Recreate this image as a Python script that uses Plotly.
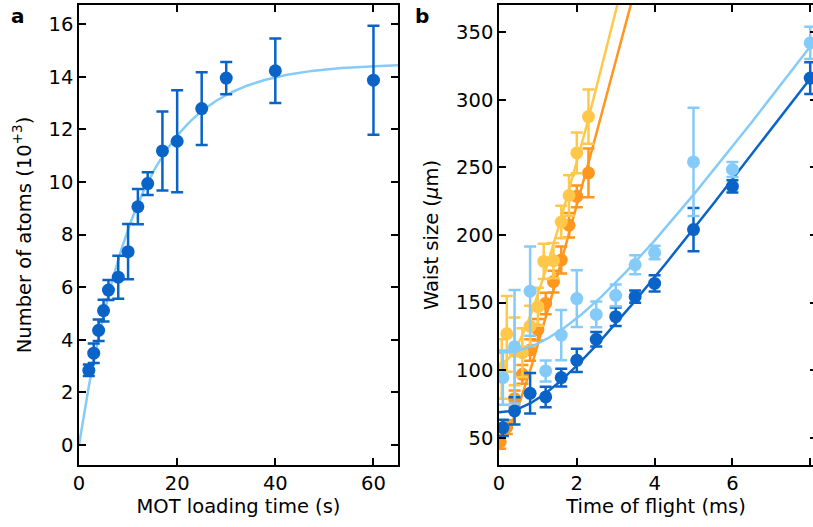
import numpy as np
import plotly.graph_objects as go

# ---------------- Panel a: MOT loading ----------------
load_t = [2, 3, 4, 5, 6, 8, 10, 12, 14, 17, 20, 25, 30, 40, 60]
load_n = [2.84, 3.49, 4.36, 5.11, 5.89, 6.38, 7.35, 9.06, 9.94, 11.18, 11.55, 12.79, 13.95, 14.23, 13.87]
load_err = [0.22, 0.37, 0.41, 0.41, 0.38, 0.82, 1.05, 0.67, 0.43, 1.5, 1.94, 1.38, 0.61, 1.23, 2.07]
load_fit_nmax = 14.5
load_fit_tau = 12.0

# ---------------- Panel b: time of flight ----------------
db_t = [0.1, 0.4, 0.8, 1.2, 1.6, 2.0, 2.5, 3.0, 3.5, 4.0, 5.0, 6.0, 8.0]
db_w = [57.5, 70, 83, 80.3, 94.6, 107.4, 122.9, 139.6, 154.4, 164.2, 204, 236, 316]
db_err = [6, 10, 15, 7.6, 6.5, 8.6, 5.4, 6.8, 4.5, 6, 16, 4.5, 11.7]
db_fit = (69.0, 38.5)

lb_t = [0.1, 0.4, 0.8, 1.2, 1.6, 2.0, 2.5, 3.0, 3.5, 4.0, 5.0, 6.0, 8.0]
lb_w = [94.6, 117.4, 158.5, 99.5, 126, 153, 141.3, 155.4, 178, 187, 254, 248.4, 342]
lb_err = [20, 42, 33, 7.7, 18.5, 21, 9.5, 8, 7, 5, 40, 5.5, 12]
lb_fit = (113.0, 40.0)

or_t = [0.03, 0.2, 0.4, 0.6, 0.8, 1.0, 1.2, 1.4, 1.6, 1.8, 2.0, 2.3]
or_w = [47, 58, 79, 97, 115, 130, 149.4, 165.5, 181.5, 207.2, 228.6, 245.9]
or_err = [5, 5, 6, 7, 8, 8, 8, 8, 10, 9, 8, 18]
or_fit = (50.0, 108.0)

ye_t = [0.07, 0.2, 0.4, 0.6, 0.8, 1.0, 1.15, 1.4, 1.6, 1.8, 2.0, 2.3]
ye_w = [101, 127, 114, 113, 132.7, 147, 180.5, 181, 209.6, 229.2, 260.7, 287.5]
ye_err = [22, 28, 25, 18, 15, 14, 13, 13, 12, 15, 15, 20]
ye_fit = (105.0, 115.6)

DARK = "#0a64c8"
LIGHT = "#85cbfa"
ORANGE = "#ff961e"
YELLOW = "#ffc84b"

FONT = "DejaVu Sans"
FS = 19.5

W, H = 813, 527

fig = go.Figure()

# Panel a
tt = np.linspace(0, 65, 300)
fig.add_trace(go.Scatter(x=tt, y=load_fit_nmax * (1 - np.exp(-tt / load_fit_tau)),
                         mode="lines", line=dict(color=LIGHT, width=2.5),
                         xaxis="x", yaxis="y", showlegend=False, hoverinfo="skip"))
fig.add_trace(go.Scatter(x=load_t, y=load_n, mode="markers",
                         marker=dict(color=DARK, size=13),
                         error_y=dict(type="data", array=load_err, color=DARK, thickness=2.5, width=6),
                         xaxis="x", yaxis="y", showlegend=False))

# Panel b
tb = np.linspace(0, 8.2, 300)
for t, w, e, (w0, v), col in [
    (or_t, or_w, or_err, or_fit, ORANGE),
    (ye_t, ye_w, ye_err, ye_fit, YELLOW),
    (db_t, db_w, db_err, db_fit, DARK),
    (lb_t, lb_w, lb_err, lb_fit, LIGHT),
]:
    fig.add_trace(go.Scatter(x=t, y=w, mode="markers",
                             marker=dict(color=col, size=13),
                             error_y=dict(type="data", array=e, color=col, thickness=2.5, width=6),
                             xaxis="x2", yaxis="y2", showlegend=False))
    fig.add_trace(go.Scatter(x=tb, y=np.sqrt(w0 ** 2 + (v * tb) ** 2), mode="lines",
                             line=dict(color=col, width=2.5),
                             xaxis="x2", yaxis="y2", showlegend=False, hoverinfo="skip"))

ydom = [(H - 465) / H, (H - 5) / H]
axcommon = dict(showline=True, linecolor="black", linewidth=1.5, ticks="inside",
                ticklen=7, tickwidth=1.5, tickcolor="black", showgrid=False, zeroline=False,
                automargin=False,
                tickfont=dict(family=FONT, size=FS, color="black"))

fig.update_layout(
    width=W, height=H, margin=dict(l=0, r=0, t=0, b=0),
    plot_bgcolor="white", paper_bgcolor="white",
    font=dict(family=FONT, size=FS, color="black"),
    xaxis=dict(domain=[79 / W, 398 / W], range=[0, 65], tickvals=[0, 20, 40, 60],
               mirror="ticks", anchor="y",
               title=dict(text="MOT loading time (s)", standoff=4,
                          font=dict(family=FONT, size=FS)), **axcommon),
    yaxis=dict(domain=ydom, range=[-0.76, 16.73], tickvals=list(range(0, 17, 2)),
               mirror="ticks", anchor="x",
               title=dict(text="Number of atoms (10<sup>+3</sup>)", standoff=12,
                          font=dict(family=FONT, size=FS)), **axcommon),
    xaxis2=dict(domain=[499 / W, 1.0], range=[0, (813 - 499) / 38.9], tickvals=[0, 2, 4, 6, 8],
                mirror="ticks", anchor="y2",
                title=dict(text="Time of flight (ms)", standoff=4,
                           font=dict(family=FONT, size=FS)), **axcommon),
    yaxis2=dict(domain=ydom, range=[30, 370], tickvals=list(range(50, 351, 50)),
                mirror=False, anchor="x2",
                title=dict(text="Waist size (<i>μ</i>m)", standoff=12,
                           font=dict(family=FONT, size=FS)), **axcommon),
    yaxis3=dict(domain=ydom, range=[30, 370], tickvals=list(range(50, 351, 50)),
                overlaying="y2", side="right", anchor="x2", showline=False,
                ticks="inside", ticklen=3, tickwidth=1.5, tickcolor="black",
                showticklabels=False, showgrid=False, zeroline=False, automargin=False),
    annotations=[
        dict(text="<b>a</b>", x=9 / W, y=1 - 2 / H, xref="paper", yref="paper",
             xanchor="left", yanchor="top", showarrow=False,
             font=dict(family=FONT, size=20, color="black")),
        dict(text="<b>b</b>", x=413 / W, y=1 - 2 / H, xref="paper", yref="paper",
             xanchor="left", yanchor="top", showarrow=False,
             font=dict(family=FONT, size=20, color="black")),
    ],
)
# empty trace so the right-hand tick axis of panel b is drawn
fig.add_trace(go.Scatter(x=[None], y=[None], xaxis="x2", yaxis="y3", showlegend=False))

fig.write_html("out.html")
